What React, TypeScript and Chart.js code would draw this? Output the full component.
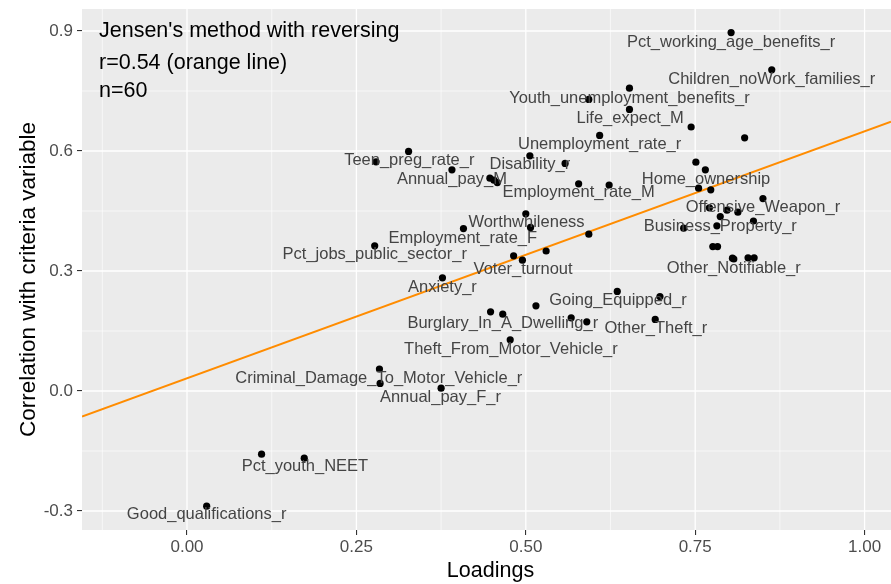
import { useEffect, useRef } from "react";
import { Chart, registerables } from "chart.js";

Chart.register(...registerables);

// Factor loadings (x) and correlation with the criteria variable (y), one entry per indicator
const loadings = [
  0.803, 0.863, 0.653, 0.593, 0.653, 0.744, 0.823, 0.609, 0.506, 0.558,
  0.327, 0.279, 0.391, 0.447, 0.453, 0.458, 0.578, 0.623, 0.751, 0.765,
  0.755, 0.773, 0.85, 0.771, 0.797, 0.813, 0.787, 0.836, 0.733, 0.782,
  0.776, 0.783, 0.805, 0.828, 0.837, 0.593, 0.53, 0.5, 0.507, 0.408,
  0.277, 0.482, 0.495, 0.377, 0.635, 0.698, 0.515, 0.448, 0.466, 0.567,
  0.59, 0.691, 0.477, 0.284, 0.285, 0.375, 0.11, 0.173, 0.029, 0.807,
];
const correlations = [
  0.896, 0.803, 0.757, 0.729, 0.704, 0.66, 0.633, 0.639, 0.588, 0.569,
  0.599, 0.573, 0.553, 0.532, 0.527, 0.521, 0.518, 0.515, 0.572, 0.553,
  0.507, 0.503, 0.481, 0.458, 0.452, 0.447, 0.436, 0.425, 0.407, 0.413,
  0.361, 0.361, 0.332, 0.333, 0.333, 0.392, 0.35, 0.443, 0.409, 0.406,
  0.363, 0.338, 0.327, 0.283, 0.249, 0.236, 0.213, 0.198, 0.192, 0.183,
  0.173, 0.179, 0.128, 0.055, 0.019, 0.007, -0.158, -0.168, -0.288, 0.33,
];

// Repelled text labels, anchored in data units
const labelNames = [
  "Pct_working_age_benefits_r", "Children_noWork_families_r", "Youth_unemployment_benefits_r",
  "Life_expect_M", "Unemployment_rate_r", "Disability_r", "Teen_preg_rate_r", "Annual_pay_M",
  "Employment_rate_M", "Home_ownership", "Offensive_Weapon_r", "Business_Property_r",
  "Worthwhileness", "Employment_rate_F", "Pct_jobs_public_sector_r", "Voter_turnout",
  "Other_Notifiable_r", "Anxiety_r", "Going_Equipped_r", "Burglary_In_A_Dwelling_r",
  "Other_Theft_r", "Theft_From_Motor_Vehicle_r", "Criminal_Damage_To_Motor_Vehicle_r",
  "Annual_pay_F_r", "Pct_youth_NEET", "Good_qualifications_r",
];
const labelX = [
  0.803, 0.863, 0.653, 0.654, 0.609, 0.506, 0.328, 0.391, 0.578, 0.766, 0.85, 0.787,
  0.501, 0.407, 0.277, 0.496, 0.807, 0.377, 0.636, 0.466, 0.692, 0.478, 0.283, 0.374,
  0.174, 0.029,
];
const labelY = [
  0.875, 0.783, 0.736, 0.684, 0.619, 0.569, 0.579, 0.533, 0.5, 0.533, 0.4625, 0.415,
  0.426, 0.386, 0.344, 0.308, 0.311, 0.263, 0.229, 0.173, 0.161, 0.108, 0.036, -0.0125,
  -0.186, -0.306,
];

// Fitted line end points
const fitX = [-0.155, 1.039];
const fitY = [-0.064, 0.673];

const xTicks = [0, 0.25, 0.5, 0.75, 1.0];
const yTicks = [-0.3, 0, 0.3, 0.6, 0.9];
const xMinor = [-0.125, 0.125, 0.375, 0.625, 0.875];
const yMinor = [-0.15, 0.15, 0.45, 0.75];

const noteLines = ["Jensen's method with reversing", "r=0.54 (orange line)", "n=60"];
const xTitle = "Loadings";
const yTitle = "Correlation with criteria variable";

const FONT = "'Liberation Sans', Arial, sans-serif";

const panelPlugin = {
  id: "panel",
  beforeDraw(chart: any) {
    const { ctx, chartArea: a, scales } = chart;
    const xs = scales.x;
    const ys = scales.y;
    ctx.save();
    ctx.fillStyle = "#ebebeb";
    ctx.fillRect(a.left, a.top, a.right - a.left, a.bottom - a.top);
    ctx.strokeStyle = "#ffffff";
    const vline = (v: number) => {
      const p = xs.getPixelForValue(v);
      ctx.beginPath();
      ctx.moveTo(p, a.top);
      ctx.lineTo(p, a.bottom);
      ctx.stroke();
    };
    const hline = (v: number) => {
      const p = ys.getPixelForValue(v);
      ctx.beginPath();
      ctx.moveTo(a.left, p);
      ctx.lineTo(a.right, p);
      ctx.stroke();
    };
    ctx.lineWidth = 0.6;
    xMinor.forEach(vline);
    yMinor.forEach(hline);
    ctx.lineWidth = 1.3;
    xTicks.forEach(vline);
    yTicks.forEach(hline);
    ctx.restore();
  },
  afterDraw(chart: any) {
    const { ctx, chartArea: a, scales } = chart;
    const xs = scales.x;
    const ys = scales.y;
    ctx.save();
    // point labels
    ctx.font = `16.5px ${FONT}`;
    ctx.fillStyle = "#444444";
    ctx.textAlign = "center";
    ctx.textBaseline = "alphabetic";
    labelNames.forEach((name, i) => {
      const px = xs.getPixelForValue(labelX[i]);
      const py = ys.getPixelForValue(labelY[i]);
      ctx.fillText(name, px, py + 6);
    });
    // annotation block
    ctx.font = `21.5px ${FONT}`;
    ctx.fillStyle = "#000000";
    ctx.textAlign = "left";
    const baselines = [37, 69, 97];
    noteLines.forEach((t, i) => ctx.fillText(t, a.left + 17, baselines[i]));
    // axis titles
    ctx.font = `21.5px ${FONT}`;
    ctx.textAlign = "center";
    ctx.fillText(xTitle, (a.left + a.right) / 2 + 4, 577);
    ctx.translate(35, (a.top + a.bottom) / 2 + 10);
    ctx.rotate(-Math.PI / 2);
    ctx.font = `22.5px ${FONT}`;
    ctx.fillText(yTitle, 0, 0);
    ctx.restore();
  },
};

// keep the plot panel at fixed bounds: no extra room reserved for overhanging tick labels
const fixPadding = (s: any) => {
  s.paddingTop = 0;
  s.paddingBottom = 0;
  s.paddingLeft = 0;
  s.paddingRight = 0;
};

export default function App() {
  const ref = useRef<HTMLCanvasElement | null>(null);

  useEffect(() => {
    if (!ref.current) return;
    const points = loadings.map((x, i) => ({ x, y: correlations[i] }));
    const fit = fitX.map((x, i) => ({ x, y: fitY[i] }));
    const tickFont = { family: FONT, size: 17 };

    const chart = new Chart(ref.current, {
      type: "scatter",
      data: {
        datasets: [
          {
            data: points,
            backgroundColor: "#000000",
            borderWidth: 0,
            pointRadius: 3.6,
          },
          {
            type: "line",
            data: fit,
            borderColor: "#ff8c00",
            borderWidth: 2,
            pointRadius: 0,
            showLine: true,
            fill: false,
          } as any,
        ],
      },
      options: {
        responsive: false,
        animation: false,
        events: [],
        layout: { autoPadding: false, padding: { top: 9, right: 0, left: 0, bottom: 0 } },
        plugins: { legend: { display: false }, tooltip: { enabled: false } },
        scales: {
          x: {
            type: "linear",
            min: -0.155,
            max: 1.039,
            afterBuildTicks: (s: any) => {
              s.ticks = xTicks.map((v) => ({ value: v }));
            },
            afterFit: (s: any) => {
              s.height = 54;
              fixPadding(s);
            },
            ticks: {
              callback: (v: any) => Number(v).toFixed(2),
              color: "#4d4d4d",
              font: tickFont,
              padding: 2,
              maxRotation: 0,
              autoSkip: false,
            },
            grid: {
              display: true,
              drawOnChartArea: false,
              drawTicks: true,
              tickLength: 5,
              color: "#333333",
              lineWidth: 1.1,
            },
            border: { display: false },
          },
          y: {
            type: "linear",
            min: -0.3475,
            max: 0.955,
            afterBuildTicks: (s: any) => {
              s.ticks = yTicks.map((v) => ({ value: v }));
            },
            afterFit: (s: any) => {
              s.width = 82;
              fixPadding(s);
            },
            ticks: {
              callback: (v: any) => Number(v).toFixed(1),
              color: "#4d4d4d",
              font: tickFont,
              padding: 4,
              autoSkip: false,
            },
            grid: {
              display: true,
              drawOnChartArea: false,
              drawTicks: true,
              tickLength: 5,
              color: "#333333",
              lineWidth: 1.1,
            },
            border: { display: false },
          },
        },
      },
      plugins: [panelPlugin],
    });
    return () => chart.destroy();
  }, []);

  return (
    <div
      style={{
        position: "absolute",
        left: 0,
        top: 0,
        width: 891,
        height: 584,
        background: "#ffffff",
      }}
    >
      <canvas ref={ref} width={891} height={584} style={{ display: "block" }} />
    </div>
  );
}
